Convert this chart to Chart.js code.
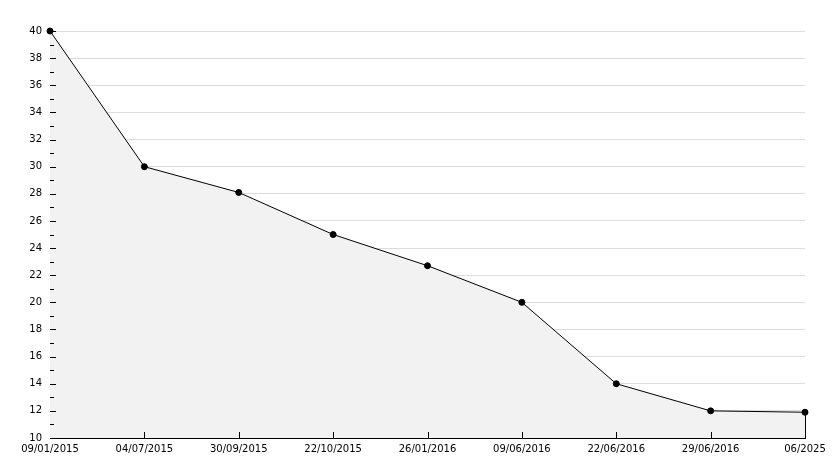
<!DOCTYPE html>
<html>
<head>
<meta charset="utf-8">
<script src="https://cdn.jsdelivr.net/npm/chart.js@4/dist/chart.umd.min.js"></script>
<style>
  html, body { margin:0; padding:0; background:#fff; }
  #wrap { width:834px; height:468px; }
</style>
</head>
<body>
<div id="wrap"><canvas id="myChart"></canvas></div>
<script>
// data
const labels = ["09/01/2015","04/07/2015","30/09/2015","22/10/2015","26/01/2016","09/06/2016","22/06/2016","29/06/2016","06/2025"];
const values = [40, 30, 28.1, 25, 22.7, 20, 14, 12, 11.9];
const yMin = 10;
const yMax = 40;

// ticks drawn inside the plot + the closing edge on the right
const axisTicks = {
    id: 'axisTicks',
    afterDatasetsDraw(chart) {
        const c = chart.ctx;
        const x = chart.scales.x;
        const y = chart.scales.y;
        const area = chart.chartArea;
        c.save();
        c.strokeStyle = '#000';
        c.lineWidth = 1;
        c.beginPath();
        for (let v = yMin; v <= yMax; v++) {
            const py = Math.round(y.getPixelForValue(v)) + 0.5;
            const len = (v % 2 === 0) ? 6 : 4;
            c.moveTo(area.left, py);
            c.lineTo(area.left + len, py);
        }
        for (let i = 1; i < labels.length; i++) {
            const px = Math.round(x.getPixelForValue(i)) + 0.5;
            c.moveTo(px, area.bottom);
            c.lineTo(px, area.bottom - 6);
        }
        // right edge of the filled area
        const last = labels.length - 1;
        const lx = Math.round(x.getPixelForValue(last)) + 0.5;
        c.moveTo(lx, y.getPixelForValue(values[last]));
        c.lineTo(lx, area.bottom);
        c.stroke();
        c.restore();
    }
};

var ctx = document.getElementById('myChart');
const myChart = new Chart(ctx, {
    type: 'line',
    data: {
        labels: labels,
        datasets: [
            {
                data: values,
                borderColor: '#000',
                borderWidth: 1,
                backgroundColor: '#f2f2f2',
                fill: 'start',
                tension: 0,
                clip: false,
                pointStyle: 'circle',
                pointRadius: 3,
                pointBackgroundColor: '#000',
                pointBorderColor: '#000',
                pointBorderWidth: 1
            }
        ]
    },
    options: {
        responsive: true,
        maintainAspectRatio: false,
        animation: false,
        layout: {
            padding: { top: 31, left: 0, bottom: 0, right: 29 }
        },
        plugins: {
            legend: { display: false },
            tooltip: { enabled: false }
        },
        scales: {
            x: {
                offset: false,
                grid: { display: false, drawTicks: false },
                border: { color: '#000', width: 1 },
                ticks: {
                    autoSkip: false,
                    maxRotation: 0,
                    padding: 5,
                    color: '#000',
                    font: { family: 'DejaVu Sans', size: 10 }
                },
                afterFit: (scale) => { scale.height = 30; }
            },
            y: {
                min: yMin,
                max: yMax,
                grid: {
                    drawTicks: false,
                    color: '#dcdcdc'
                },
                border: { color: '#000', width: 1 },
                ticks: {
                    stepSize: 2,
                    padding: 8,
                    color: '#000',
                    font: { family: 'DejaVu Sans', size: 10 }
                },
                afterFit: (scale) => { scale.width = 50; }
            }
        }
    },
    plugins: [axisTicks]
});
</script>
</body>
</html>
